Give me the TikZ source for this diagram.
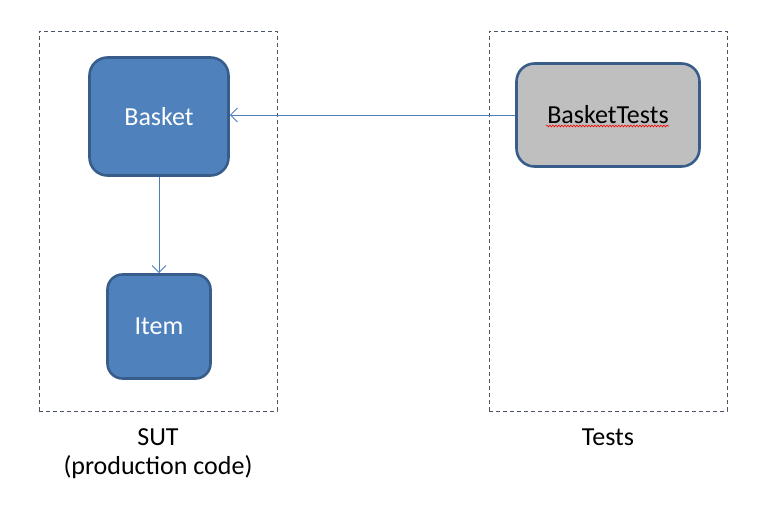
\documentclass[tikz,border=0pt]{standalone}
\usepackage{fontspec}
\setmainfont{Carlito}
\usepackage{xcolor}
\usepackage{tikz}
\usetikzlibrary{calc,arrows.meta,positioning,decorations.pathmorphing}
\definecolor{boxfill}{HTML}{4F81BD}
\definecolor{boxline}{HTML}{385D8A}
\definecolor{testfill}{HTML}{BFBFBF}
\definecolor{link}{HTML}{4A7EBB}
\definecolor{frame}{HTML}{4A5468}
\tikzset{
  cls/.style={draw=boxline, fill=boxfill, line width=2.6pt, rounded corners=18pt, text=white, font=\fontsize{26}{30}\selectfont},
  testcls/.style={cls, fill=testfill, text=black},
  group/.style={draw=frame, dash pattern=on 4pt off 3pt, line width=0.8pt, minimum width=238pt, minimum height=380pt},
  dep/.style={draw=link, line width=0.9pt, -{Straight Barb[length=7pt,width=14pt]}},
  grouplab/.style={font=\fontsize{26}{29}\selectfont, align=center},
  squiggle/.style={draw=red, line width=0.6pt, decorate, decoration={snake, amplitude=0.9pt, segment length=3pt}}
}

\begin{document}
\begin{tikzpicture}[x=1pt,y=-1pt]
  \useasboundingbox (0,0) rectangle (772,522);
  % dashed groups
  \node[group] (sut) at (158,221) {};
  \node[group] (tests) at (608,221) {};
  \node[grouplab, below=14pt of sut] (sutlab) {SUT\\(production code)};
  \node[grouplab, below=14pt of tests] (testslab) {Tests};
  % classes
  \node[cls, minimum width=139pt, minimum height=118pt] (basket) at (159,116.5) {Basket};
  \node[cls, rounded corners=15pt, minimum width=103pt, minimum height=104pt] (item) at (159,326.5) {Item};
  \node[testcls, minimum width=183pt, minimum height=103pt] (bt) at (608,115) {BasketTests};
  \draw[squiggle] ($(bt.center)+(-62,11)$) -- ($(bt.center)+(61,11)$);
  % dependencies
  \draw[dep] (bt.west) -- (bt.west -| basket.east);
  \draw[dep] (basket) -- (item);
\end{tikzpicture}
\end{document}
